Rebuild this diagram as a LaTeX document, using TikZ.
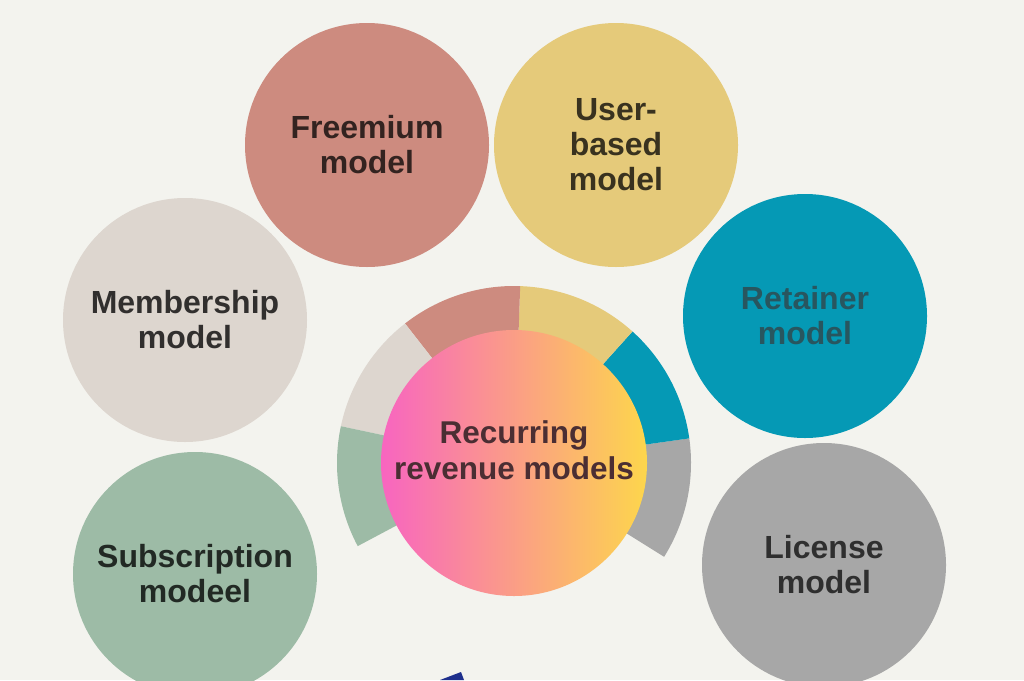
\documentclass[tikz,border=0pt]{standalone}
\usepackage{fontspec}
\setmainfont{Liberation Sans}
\usepackage{xcolor}
\usepackage{tikz}
\usetikzlibrary{calc}

\definecolor{paper}{HTML}{F3F3EE}
\definecolor{freemium}{HTML}{CD8B7F}
\definecolor{userbased}{HTML}{E5CA7A}
\definecolor{membership}{HTML}{DDD6CF}
\definecolor{retainer}{HTML}{0599B5}
\definecolor{subscription}{HTML}{9DBBA6}
\definecolor{license}{HTML}{A7A7A7}
\definecolor{hotpink}{HTML}{F865C0}
\definecolor{sunyellow}{HTML}{FDD64C}
\definecolor{navy}{HTML}{1E2F8C}
\definecolor{coreink}{HTML}{4B2E33}

\tikzset{
	bubble/.style={circle,minimum size=244pt,inner sep=0pt,align=center,
		font=\fontsize{32}{35}\selectfont\bfseries},
	bubbletext/.style={align=center,font=\fontsize{31.5}{36}\selectfont\bfseries}
}

\begin{document}
\begin{tikzpicture}[x=1pt,y=-1pt]
		\fill[paper] (0,0) rectangle (1024,680);
		\useasboundingbox (0,0) rectangle (1024,680);
		\coordinate (hub) at (514,463);
		\fill[license] ($(hub)+(32:177)$) arc[start angle=32,end angle=-8,radius=177] -- ($(hub)+(-8:110)$) arc[start angle=-8,end angle=32,radius=110] -- cycle;
		\fill[retainer] ($(hub)+(-8:177)$) arc[start angle=-8,end angle=-48,radius=177] -- ($(hub)+(-48:110)$) arc[start angle=-48,end angle=-8,radius=110] -- cycle;
		\fill[userbased] ($(hub)+(-48:177)$) arc[start angle=-48,end angle=-88,radius=177] -- ($(hub)+(-88:110)$) arc[start angle=-88,end angle=-48,radius=110] -- cycle;
		\fill[freemium] ($(hub)+(-88:177)$) arc[start angle=-88,end angle=-128,radius=177] -- ($(hub)+(-128:110)$) arc[start angle=-128,end angle=-88,radius=110] -- cycle;
		\fill[membership] ($(hub)+(-128:177)$) arc[start angle=-128,end angle=-168,radius=177] -- ($(hub)+(-168:110)$) arc[start angle=-168,end angle=-128,radius=110] -- cycle;
		\fill[subscription] ($(hub)+(-168:177)$) arc[start angle=-168,end angle=-208,radius=177] -- ($(hub)+(-208:110)$) arc[start angle=-208,end angle=-168,radius=110] -- cycle;
		\node[circle,minimum size=266pt,inner sep=0pt,left color=hotpink,right color=sunyellow] (core) at (hub) {};
		\node[bubbletext,text=coreink] (coretext) at (514,450) {Recurring\\revenue models};
		\node[bubble,fill=freemium,text=black!75!freemium] (freemiumnode) at (367,145) {Freemium\\model};
		\node[bubble,fill=userbased,text=black!75!userbased] (usernode) at (616,145) {User-\\based\\model};
		\node[bubble,fill=membership,text=black!78!membership] (membernode) at (185,320) {Membership\\model};
		\node[bubble,fill=retainer,text=black!55!retainer!70!gray] (retainernode) at (805,316) {Retainer\\model};
		\node[bubble,fill=subscription,text=black!78!subscription] (subnode) at (195,574) {Subscription\\modeel};
		\node[bubble,fill=license,text=black!72!license] (licensenode) at (824,565) {License\\model};
		\fill[navy] (440,680) -- (461,672) -- (464,680) -- cycle;
	\end{tikzpicture}
\end{document}
